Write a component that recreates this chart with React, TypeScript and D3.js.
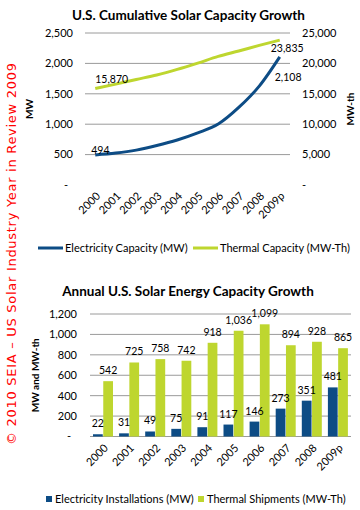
import React from "react";
import * as d3 from "d3";

const years = ["2000", "2001", "2002", "2003", "2004", "2005", "2006", "2007", "2008", "2009p"];
const elecCumulative = [494, 525, 574, 649, 740, 857, 1003, 1276, 1627, 2108];
const thermalCumulative = [15870, 16595, 17353, 18095, 19013, 20049, 21148, 22042, 22970, 23835];
const elecAnnual = [22, 31, 49, 75, 91, 117, 146, 273, 351, 481];
const thermalAnnual = [542, 725, 758, 742, 918, 1036, 1099, 894, 928, 865];
const leftTicksTop = [0, 500, 1000, 1500, 2000, 2500];
const rightTicksTop = [0, 5000, 10000, 15000, 20000, 25000];
const ticksBottom = [0, 200, 400, 600, 800, 1000, 1200];

const BLUE = "#0D4C85";
const GREEN = "#BED62F";
const GRID = "#9a9a9a";
const FONT = "Lato, 'Open Sans', sans-serif";

const fmt = (v: number) => (v === 0 ? "-" : d3.format(",")(v));

export default function App() {
  // Top chart scales
  const xTop = d3.scaleBand<string>().domain(years).range([85, 290]).padding(0);
  const cx = (y: string) => (xTop(y) as number) + xTop.bandwidth() / 2;
  const yL = d3.scaleLinear().domain([0, 2500]).range([185, 33]);
  const yR = d3.scaleLinear().domain([0, 25000]).range([185, 33]);
  const lineE = d3
    .line<number>()
    .x((_, i) => cx(years[i]))
    .y((d) => yL(d))
    .curve(d3.curveMonotoneX);
  const lineT = d3
    .line<number>()
    .x((_, i) => cx(years[i]))
    .y((d) => yR(d))
    .curve(d3.curveMonotoneX);

  // Bottom chart scales
  const xB = d3.scaleBand<string>().domain(years).range([90, 351]).padding(0);
  const x1 = d3.scaleBand<string>().domain(["e", "t"]).range([3, 23]).paddingInner(0.05);
  const yB = d3.scaleLinear().domain([0, 1200]).range([436.5, 314]);

  const n = years.length - 1;

  return (
    <svg
      width={360}
      height={510}
      style={{ display: "block", position: "absolute", left: 0, top: 0 }}
      fontFamily={FONT}
    >
      <rect x={0} y={0} width={360} height={510} fill="#fff" />
      {/* Copyright vertical text */}
      <text
        transform="translate(16,254) rotate(-90)"
        textAnchor="middle"
        fill="#FF0000"
        fontFamily="'DejaVu Sans', Verdana, sans-serif"
        fontSize={13}
        textLength={382}
        lengthAdjust="spacing"
      >
        © 2010 SEIA – US Solar Industry Year in Review 2009
      </text>

      {/* ---------- TOP CHART ---------- */}
      <text x={188.5} y={20} textAnchor="middle" fontWeight="bold" fontSize={13.5}>
        U.S. Cumulative Solar Capacity Growth
      </text>
      {leftTicksTop
        .filter((t) => t > 0)
        .map((t) => (
          <line key={"gt" + t} x1={85} x2={290} y1={yL(t)} y2={yL(t)} stroke={GRID} strokeWidth={1} />
        ))}
      {leftTicksTop.map((t) => (
        <text key={"lt" + t} x={t === 0 ? 68 : 73} y={yL(t)} dy="0.35em" textAnchor="end" fontSize={11}>
          {fmt(t)}
        </text>
      ))}
      {rightTicksTop.map((t) => (
        <text key={"rt" + t} x={302} y={yR(t)} dy="0.35em" textAnchor="start" fontSize={11}>
          {fmt(t)}
        </text>
      ))}
      <text transform={`translate(33,${(33 + 185) / 2}) rotate(-90)`} textAnchor="middle" fontWeight="bold" fontSize={10}>
        MW
      </text>
      <text transform={`translate(354,${(33 + 185) / 2}) rotate(-90)`} textAnchor="middle" fontWeight="bold" fontSize={10}>
        MW-th
      </text>
      {years.map((y) => (
        <text
          key={"xt" + y}
          transform={`translate(${cx(y) + 3},${194}) rotate(-45)`}
          textAnchor="end"
          dy="0.35em"
          fontSize={11}
        >
          {y}
        </text>
      ))}
      <path d={lineT(thermalCumulative) as string} fill="none" stroke={GREEN} strokeWidth={3} />
      <path d={lineE(elecCumulative) as string} fill="none" stroke={BLUE} strokeWidth={3} />
      <text x={cx(years[0])} y={yR(thermalCumulative[0]) - 6} fontSize={10.5}>
        {d3.format(",")(thermalCumulative[0])}
      </text>
      <text x={cx(years[0]) - 4} y={yL(elecCumulative[0]) - 1} fontSize={10.5}>
        {d3.format(",")(elecCumulative[0])}
      </text>
      <text x={cx(years[n]) - 9} y={yR(thermalCumulative[n]) + 12} fontSize={10.5}>
        {d3.format(",")(thermalCumulative[n])}
      </text>
      <text x={cx(years[n]) - 5} y={yL(elecCumulative[n]) + 24} fontSize={10.5}>
        {d3.format(",")(elecCumulative[n])}
      </text>
      {/* top legend */}
      <line x1={38} x2={63} y1={248} y2={248} stroke={BLUE} strokeWidth={3} />
      <text x={65} y={248} dy="0.35em" fontSize={11}>
        Electricity Capacity (MW)
      </text>
      <line x1={193} x2={218} y1={248} y2={248} stroke={GREEN} strokeWidth={3} />
      <text x={220} y={248} dy="0.35em" fontSize={11}>
        Thermal Capacity (MW-Th)
      </text>

      {/* ---------- BOTTOM CHART ---------- */}
      <text x={188} y={296} textAnchor="middle" fontWeight="bold" fontSize={13.5}>
        Annual U.S. Solar Energy Capacity Growth
      </text>
      {ticksBottom.map((t) => (
        <line key={"gb" + t} x1={90} x2={351} y1={yB(t)} y2={yB(t)} stroke={GRID} strokeWidth={1} />
      ))}
      {ticksBottom.map((t) => (
        <text key={"lb" + t} x={t === 0 ? 71 : 77} y={yB(t)} dy="0.35em" textAnchor="end" fontSize={11}>
          {fmt(t)}
        </text>
      ))}
      <text transform={`translate(39,${(314 + 436.5) / 2}) rotate(-90)`} textAnchor="middle" fontWeight="bold" fontSize={10}>
        MW and MW-th
      </text>
      {years.map((y, i) => {
        const bx = xB(y) as number;
        const ex = bx + (x1("e") as number);
        const tx = bx + (x1("t") as number);
        const w = x1.bandwidth();
        return (
          <g key={"bar" + y}>
            <rect x={ex} y={yB(elecAnnual[i])} width={w} height={yB(0) - yB(elecAnnual[i])} fill={BLUE} />
            <rect x={tx} y={yB(thermalAnnual[i])} width={w} height={yB(0) - yB(thermalAnnual[i])} fill={GREEN} />
            <text x={ex + w / 2} y={yB(elecAnnual[i]) - 7} textAnchor="middle" fontSize={10.5}>
              {d3.format(",")(elecAnnual[i])}
            </text>
            <text x={tx + w / 2} y={yB(thermalAnnual[i]) - 7} textAnchor="middle" fontSize={10.5}>
              {d3.format(",")(thermalAnnual[i])}
            </text>
            <text
              transform={`translate(${bx + 16},${446}) rotate(-45)`}
              textAnchor="end"
              dy="0.35em"
              fontSize={11}
            >
              {y}
            </text>
          </g>
        );
      })}
      {/* bottom legend */}
      <rect x={46} y={496} width={6} height={6} fill={BLUE} />
      <text x={55} y={499} dy="0.35em" fontSize={11}>
        Electricity Installations (MW)
      </text>
      <rect x={198} y={496} width={6} height={6} fill={GREEN} />
      <text x={207} y={499} dy="0.35em" fontSize={11}>
        Thermal Shipments (MW-Th)
      </text>
    </svg>
  );
}
